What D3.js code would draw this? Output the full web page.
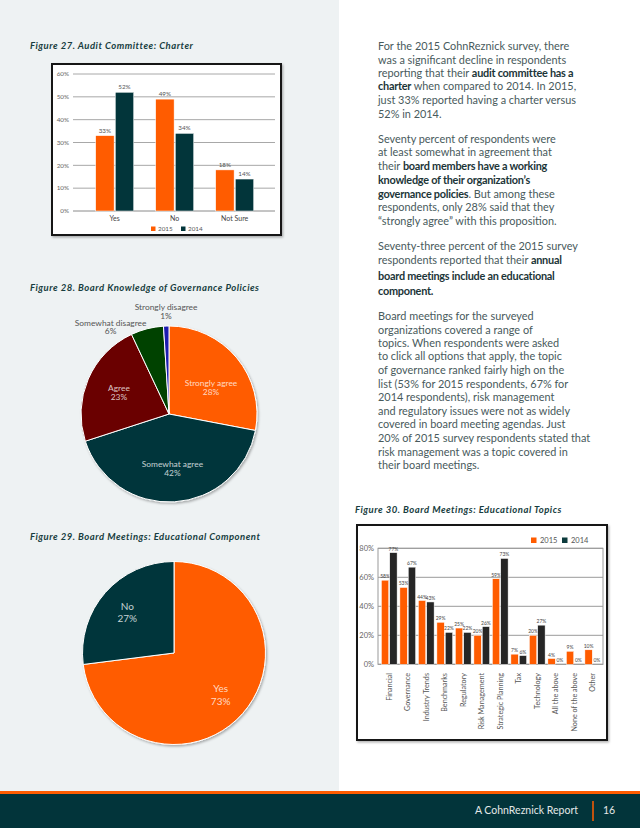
<!DOCTYPE html>
<html><head><meta charset="utf-8">
<script src="https://cdn.jsdelivr.net/npm/d3@7"></script>
<style>
html,body{margin:0;padding:0;background:#fff;}
svg{display:block;font-family:Lato,"Noto Sans",sans-serif;}
</style></head>
<body>
<svg id="page" width="640" height="828"></svg>
<script>
// ---------- DATA ----------
const series = ["2015", "2014"];

const fig27Categories = ["Yes", "No", "Not Sure"];
const fig27Values2015 = [33, 49, 18];
const fig27Values2014 = [52, 34, 14];
const fig27Ticks = [0, 10, 20, 30, 40, 50, 60];

const fig28Labels = ["Strongly agree", "Somewhat agree", "Agree", "Somewhat disagree", "Strongly disagree"];
const fig28Values = [28, 42, 23, 6, 1];

const fig29Labels = ["Yes", "No"];
const fig29Values = [73, 27];

const fig30Categories = ["Financial", "Governance", "Industry Trends", "Benchmarks", "Regulatory",
  "Risk Management", "Strategic Planning", "Tax", "Technology", "All the above", "None of the above", "Other"];
const fig30Values2015 = [58, 53, 44, 29, 25, 20, 59, 7, 20, 4, 9, 10];
const fig30Values2014 = [77, 67, 43, 22, 22, 26, 73, 6, 27, 0, 0, 0];
const fig30Ticks = [0, 20, 40, 60, 80];

// ---------- STYLE ----------
const ORANGE = "#ff5c00", TEAL = "#02353a", DARKRED = "#6a0000", DGREEN = "#014300", BLUE = "#1a1ab0";
const fig28Colors = [ORANGE, TEAL, DARKRED, DGREEN, BLUE];
const fig29Colors = [ORANGE, TEAL];

const svg = d3.select("#page");
const defs = svg.append("defs");
const f = defs.append("filter").attr("id", "shadow").attr("x", "-10%").attr("y", "-10%").attr("width", "125%").attr("height", "125%");
f.append("feDropShadow").attr("dx", 1.2).attr("dy", 1.5).attr("stdDeviation", 1.3).attr("flood-color", "#000").attr("flood-opacity", 0.3);

// backgrounds
svg.append("rect").attr("x", 0).attr("y", 0).attr("width", 339).attr("height", 792).attr("fill", "#eef2f3");
svg.append("rect").attr("x", 0).attr("y", 791).attr("width", 640).attr("height", 3).attr("fill", ORANGE);
svg.append("rect").attr("x", 0).attr("y", 794).attr("width", 640).attr("height", 34).attr("fill", "#02343a");
svg.append("text").attr("x", 578).attr("y", 814).attr("text-anchor", "end").attr("font-size", 10.5)
  .attr("fill", "#e4e8e8").text("A CohnReznick Report");
svg.append("line").attr("x1", 593).attr("x2", 593).attr("y1", 801).attr("y2", 821).attr("stroke", ORANGE).attr("stroke-width", 1.5);
svg.append("text").attr("x", 603).attr("y", 814).attr("font-size", 10.5).attr("fill", "#e4e8e8").text("16");

// titles
function title(x, y, t) {
  svg.append("text").attr("x", x).attr("y", y).attr("font-size", 9.5).attr("font-weight", "bold")
    .attr("letter-spacing", 0.5).attr("font-style", "italic").attr("fill", "#173d40").text(t);
}
title(30, 49, "Figure 27. Audit Committee: Charter");
title(30, 291, "Figure 28. Board Knowledge of Governance Policies");
title(30, 540, "Figure 29. Board Meetings: Educational Component");
title(355, 513, "Figure 30. Board Meetings: Educational Topics");

// ---------- FIGURE 27 ----------
(function () {
  const g = svg.append("g");
  g.append("rect").attr("x", 52).attr("y", 64).attr("width", 229).attr("height", 171)
    .attr("fill", "#fff").attr("stroke", "#141414").attr("stroke-width", 2).attr("filter", "url(#shadow)");
  const y = d3.scaleLinear().domain([0, 60]).range([211, 74]);
  const x0 = d3.scalePoint().domain(fig27Categories).range([114.7, 234.7]);
  const x1 = d3.scaleBand().domain(series).range([-19, 19]).paddingInner(0.06);
  g.selectAll(".grid").data(fig27Ticks).join("line")
    .attr("x1", 73).attr("x2", 275).attr("y1", d => y(d)).attr("y2", d => y(d))
    .attr("stroke", d => d === 0 ? "#8a8a8a" : "#a8a8a8").attr("stroke-width", 1);
  g.selectAll(".tl").data(fig27Ticks).join("text")
    .attr("x", 69).attr("y", d => y(d) + 2.2).attr("text-anchor", "end").attr("font-size", 6.3).attr("fill", "#666")
    .text(d => d + "%");
  const rows = fig27Categories.map((c, i) => ({ c, vals: [fig27Values2015[i], fig27Values2014[i]] }));
  rows.forEach(r => {
    r.vals.forEach((v, j) => {
      const s = series[j];
      g.append("rect").attr("x", x0(r.c) + x1(s)).attr("width", x1.bandwidth())
        .attr("y", y(v)).attr("height", y(0) - y(v)).attr("fill", j === 0 ? ORANGE : TEAL)
        .attr("stroke", "#fff").attr("stroke-width", 0.5);
      g.append("text").attr("x", x0(r.c) + x1(s) + x1.bandwidth() / 2).attr("y", y(v) - 3)
        .attr("text-anchor", "middle").attr("font-size", 6.3).attr("fill", "#555").text(v + "%");
    });
    g.append("text").attr("x", x0(r.c)).attr("y", 220.5).attr("text-anchor", "middle")
      .attr("font-size", 7).attr("fill", "#444").text(r.c);
  });
  const lg = g.append("g").attr("transform", "translate(151,229)");
  series.forEach((s, i) => {
    lg.append("rect").attr("x", i * 30).attr("y", -2.5).attr("width", 4.5).attr("height", 4.5).attr("fill", i === 0 ? ORANGE : TEAL);
    lg.append("text").attr("x", i * 30 + 7).attr("y", 2).attr("font-size", 6.3).attr("fill", "#555").text(s);
  });
})();

// ---------- FIGURE 28 ----------
(function () {
  const cx = 169, cy = 414, r = 88;
  const g = svg.append("g").attr("transform", `translate(${cx},${cy})`);
  const pie = d3.pie().sort(null).value(d => d);
  const arcs = pie(fig28Values);
  const arc = d3.arc().innerRadius(0).outerRadius(r);
  const gs = g.append("g").attr("filter", "url(#shadow)");
  gs.selectAll("path").data(arcs).join("path").attr("d", arc)
    .attr("fill", (d, i) => fig28Colors[i]).attr("stroke", "#fff").attr("stroke-width", 1);
  arcs.forEach((a, i) => {
    const mid = (a.startAngle + a.endAngle) / 2;
    const pct = a.value + "%";
    if (a.value >= 10) {
      const lr = r * 0.62;
      const lx = Math.sin(mid) * lr, ly = -Math.cos(mid) * lr;
      const t = g.append("text").attr("text-anchor", "middle").attr("font-size", 8.4).attr("fill", "rgba(255,255,255,0.78)");
      const dy = i === 0 ? 8 : 0;
      t.append("tspan").attr("x", lx).attr("y", ly - 1 + dy).text(fig28Labels[i]);
      t.append("tspan").attr("x", lx).attr("y", ly + 8 + dy).text(pct);
    } else {
      const lr = r + 6;
      const lx = Math.sin(mid) * lr, ly = -Math.cos(mid) * lr;
      const t = g.append("text").attr("font-size", 8.4).attr("fill", "#555").attr("text-anchor", "middle");
      if (Math.sin(mid) < -0.15) {
        const tx = lx - 35;
        t.append("tspan").attr("x", tx).attr("y", ly + 3).text(fig28Labels[i]);
        t.append("tspan").attr("x", tx).attr("y", ly + 11.5).text(pct);
      } else {
        t.append("tspan").attr("x", lx).attr("y", ly - 10).text(fig28Labels[i]);
        t.append("tspan").attr("x", lx).attr("y", ly - 1.5).text(pct);
      }
    }
  });
})();

// ---------- FIGURE 29 ----------
(function () {
  const cx = 174, cy = 653, r = 91.5;
  const g = svg.append("g").attr("transform", `translate(${cx},${cy})`);
  const arcs = d3.pie().sort(null).value(d => d)(fig29Values);
  const arc = d3.arc().innerRadius(0).outerRadius(r);
  g.append("g").attr("filter", "url(#shadow)").selectAll("path").data(arcs).join("path").attr("d", arc)
    .attr("fill", (d, i) => fig29Colors[i]).attr("stroke", "#fff").attr("stroke-width", 1);
  arcs.forEach((a, i) => {
    const mid = (a.startAngle + a.endAngle) / 2;
    const lr = r * 0.68;
    const lx = Math.sin(mid) * lr, ly = -Math.cos(mid) * lr;
    const t = g.append("text").attr("text-anchor", "middle").attr("font-size", 10).attr("fill", "rgba(255,255,255,0.78)");
    t.append("tspan").attr("x", lx).attr("y", ly - 2).text(fig29Labels[i]);
    t.append("tspan").attr("x", lx).attr("y", ly + 10.5).text(a.value + "%");
  });
})();

// ---------- FIGURE 30 ----------
(function () {
  const g = svg.append("g");
  g.append("rect").attr("x", 357).attr("y", 525).attr("width", 250).attr("height", 215)
    .attr("fill", "#fff").attr("stroke", "#141414").attr("stroke-width", 2).attr("filter", "url(#shadow)");
  const y = d3.scaleLinear().domain([0, 80]).range([664.3, 548.3]);
  const x0 = d3.scaleBand().domain(fig30Categories).range([380, 602]).paddingInner(0.15).paddingOuter(0.075);
  const x1 = d3.scaleBand().domain(series).range([0, x0.bandwidth()]).paddingInner(0.12);
  g.append("rect").attr("x", 378).attr("y", y(80)).attr("width", 225).attr("height", y(0) - y(80))
    .attr("fill", "none").attr("stroke", "#9a9a9a").attr("stroke-width", 1);
  g.selectAll(".grid").data(fig30Ticks).join("line")
    .attr("x1", 378).attr("x2", 603).attr("y1", d => y(d)).attr("y2", d => y(d))
    .attr("stroke", "#9a9a9a").attr("stroke-width", 1);
  g.selectAll(".tl").data(fig30Ticks).join("text")
    .attr("x", 374).attr("y", d => y(d) + 2.6).attr("text-anchor", "end").attr("font-size", 7.5).attr("fill", "#666")
    .text(d => d + "%");
  fig30Categories.forEach((c, i) => {
    const vals = [fig30Values2015[i], fig30Values2014[i]];
    vals.forEach((v, j) => {
      const s = series[j];
      const bx = x0(c) + x1(s);
      g.append("rect").attr("x", bx).attr("width", x1.bandwidth()).attr("y", y(v)).attr("height", y(0) - y(v))
        .attr("fill", j === 0 ? ORANGE : "#262626").attr("stroke", "#fff").attr("stroke-width", 0.5);
      g.append("text").attr("x", bx + x1.bandwidth() / 2).attr("y", y(v) - 2).attr("text-anchor", "middle")
        .attr("font-size", 5).attr("fill", "#444").text(v + "%");
    });
    const cxp = x0(c) + x0.bandwidth() / 2;
    g.append("text").attr("transform", `translate(${cxp + 2.5},673) rotate(-90)`).attr("text-anchor", "end")
      .attr("font-size", 7.2).attr("fill", "#555").text(c);
  });
  const lg = g.append("g").attr("transform", "translate(531,540.5)");
  series.forEach((s, i) => {
    lg.append("rect").attr("x", i * 31).attr("y", -3).attr("width", 5.5).attr("height", 5.5).attr("fill", i === 0 ? ORANGE : "#0d3b3d");
    lg.append("text").attr("x", i * 31 + 9).attr("y", 2.6).attr("font-size", 7.5).attr("fill", "#555").text(s);
  });
})();

// ---------- BODY TEXT ----------
const paragraphs = [
  [46, [["For the 2015 CohnReznick survey, there"]]],
  [60, [["was a significant decline in respondents"]]],
  [73.3, [["reporting that their "], ["audit committee has a", 1]]],
  [86.7, [["charter", 1], [" when compared to 2014. In 2015,"]]],
  [100.7, [["just 33% reported having a charter versus"]]],
  [114.3, [["52% in 2014."]]],
  [139, [["Seventy percent of respondents were"]]],
  [152.7, [["at least somewhat in agreement that"]]],
  [166.7, [["their "], ["board members have a working", 1]]],
  [180.7, [["knowledge of their organization\u2019s", 1]]],
  [194, [["governance policies", 1], [". But among these"]]],
  [207.3, [["respondents, only 28% said that they"]]],
  [221, [["\u201cstrongly agree\u201d with this proposition."]]],
  [246.7, [["Seventy-three percent of the 2015 survey"]]],
  [260.7, [["respondents reported that their "], ["annual", 1]]],
  [276, [["board meetings include an educational", 1]]],
  [291, [["component.", 1]]],
  [316, [["Board meetings for the surveyed"]]],
  [330, [["organizations covered a range of"]]],
  [343.3, [["topics. When respondents were asked"]]],
  [356.7, [["to click all options that apply, the topic"]]],
  [370, [["of governance ranked fairly high on the"]]],
  [384, [["list (53% for 2015 respondents, 67% for"]]],
  [397.3, [["2014 respondents), risk management"]]],
  [411, [["and regulatory issues were not as widely"]]],
  [424.7, [["covered in board meeting agendas. Just"]]],
  [438.3, [["20% of 2015 survey respondents stated that"]]],
  [452, [["risk management was a topic covered in"]]],
  [465.3, [["their board meetings."]]]
];
paragraphs.forEach(([yy, parts]) => {
  const t = svg.append("text").attr("x", 378).attr("y", yy + 3.6).attr("font-size", 10.9).attr("fill", "#485a5c");
  parts.forEach(p => {
    const ts = t.append("tspan").text(p[0]);
    if (p[1]) ts.attr("font-weight", "bold").attr("fill", "#1c3538").attr("letter-spacing", -0.25);
  });
});
</script>
</body></html>
